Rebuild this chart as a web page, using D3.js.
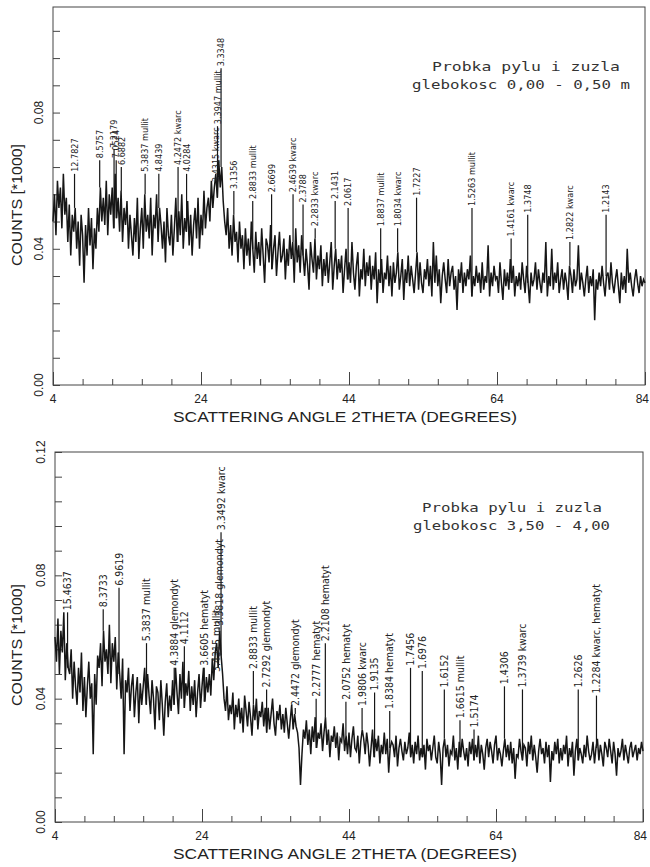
<!DOCTYPE html>
<html>
<head>
<meta charset="utf-8">
<script src="https://cdn.jsdelivr.net/npm/d3@7"></script>
<style>
  body { margin: 0; background: #fff; }
  text { fill: #222; }
</style>
</head>
<body>
<svg id="chart" width="650" height="867"></svg>
<script>
// measured scan: 2theta from 4 to 84, one reading every 0.2 deg, raw counts
var startAngle = 4, stepAngle = 0.2;
var xTickLabels = [4, 24, 44, 64, 84];

var countsTop = [
48,56,44,60,52, 58,46,62,50,55, 42,53,38,50,45, 52,40,48,35,50,
44,30,47,38,52, 41,49,34,46,40, 52,45,58,48,55, 47,60,44,56,50,
58,46,62,49,55, 45,57,42,52,47, 54,40,50,44,38, 49,42,55,37,46,
52,40,56,45,50, 43,55,38,50,46, 56,42,52,47,40, 48,36,52,44,41,
50,38,46,55,42, 51,44,56,40,49, 45,54,41,50,38, 47,52,43,55,40,
50,44,57,46,52, 55,48,60,52,58, 62,55,66,58,64, 54,48,44,52,40,
47,38,50,42,45, 36,48,40,44,34, 46,38,43,35,48, 40,33,45,37,42,
35,46,38,30,43, 41,36,47,34,40, 44,32,39,45,36, 38,43,31,40,35,
44,37,42,30,46, 36,41,33,44,38, 32,40,35,28,42, 37,33,43,31,38,
34,41,29,37,32, 39,30,36,42,28, 35,40,31,37,33, 38,27,34,40,31,
36,30,42,33,28, 35,39,26,34,31, 40,29,36,32,38, 28,35,31,39,24,
34,30,37,27,33, 31,38,29,35,26, 36,30,33,39,28, 32,37,25,34,30,
38,29,35,31,27, 33,39,28,36,30, 27,34,31,37,29, 35,26,42,30,38,
29,34,24,32,36, 31,27,37,29,33, 35,28,32,22,34, 30,36,27,33,29,
34,31,38,26,32, 29,35,30,33,27, 36,28,32,30,41, 26,33,29,35,31,
32,27,36,30,25, 34,29,33,28,37, 30,35,26,32,29, 33,28,36,31,27,
35,30,24,33,29, 31,36,28,34,30, 27,33,30,42,26, 32,29,40,28,33,
30,36,27,31,34, 28,33,30,25,35, 32,27,34,29,31, 41,28,33,30,26,
31,35,27,32,29, 34,19,31,28,33, 29,35,30,26,32, 33,28,36,30,27,
31,34,29,24,33, 28,32,27,40,30, 33,29,26,31,34, 30,27,32,29,31,
30];

var peakAnglesTop = [6.91, 10.31, 12.25, 12.54, 13.23, 16.45, 18.30, 20.90, 22.05, 25.94,
  26.23, 26.71, 28.44, 30.99, 33.54, 36.44, 37.79, 39.43, 42.13, 43.88,
  48.28, 50.57, 53.13, 60.62, 65.91, 68.15, 73.85, 78.74];
var peakCountsTop = [62, 66, 69, 66, 64, 62, 62, 64, 62, 59,
  76, 93, 57, 54, 56, 56, 53, 46, 54, 52,
  46, 46, 55, 52, 43, 50, 42, 50];
var peakLabelsTop = ["12.7827", "8.5757", "7.2179", "7.0524", "6.6882", "5.3837 mullit", "4.8439",
  "4.2472 kwarc", "4.0284", "3.4315 kwarc", "3.3947 mullit", "3.3348", "3.1356", "2.8833 mullit",
  "2.6699", "2.4639 kwarc", "2.3788", "2.2833 kwarc", "2.1431", "2.0617", "1.8837 mullit",
  "1.8034 kwarc", "1.7227", "1.5263 mullit", "1.4161 kwarc", "1.3748", "1.2822 kwarc", "1.2143"];
var yTickLabelsTop = [0, 40, 80];
var noteTop = ["Probka pylu i zuzla", "glebokosc 0,00 - 0,50 m"];

var countsBottom = [
60,52,66,48,62, 55,68,46,58,50, 48,56,40,52,44, 38,50,42,55,36,
47,34,44,52,40, 45,22,48,38,54, 50,58,44,62,52, 56,48,64,45,58,
52,60,43,55,48, 40,53,22,46,42, 50,36,44,48,34, 42,47,32,45,38,
44,50,38,48,41, 35,46,40,30,44, 42,33,46,38,28, 39,45,34,41,36,
46,38,50,42,35, 48,40,52,37,45, 41,49,36,44,38, 46,34,42,48,37,
44,50,39,47,42, 48,41,53,46,55, 58,50,62,54,48, 40,36,44,33,38,
35,42,30,38,34, 40,32,37,29,41, 36,31,39,34,28, 38,33,40,30,36,
34,39,31,37,29, 37,30,35,40,32, 28,36,33,38,30, 35,29,37,32,27,
33,38,30,35,31, 29,24,12,22,30, 27,33,25,30,22, 31,26,34,24,29,
27,32,23,29,34, 25,30,21,28,26, 31,24,29,20,27, 26,32,23,28,22,
29,21,27,31,24, 23,28,19,26,30, 27,22,29,25,18, 24,30,21,27,23,
28,19,25,22,29, 22,27,16,24,26, 25,21,28,18,24, 27,23,20,26,22,
24,29,21,25,19, 26,22,28,20,24, 21,25,17,27,23, 25,20,24,28,21,
19,26,22,12,24, 27,21,25,18,23, 22,28,20,24,17, 26,21,27,23,20,
24,18,26,22,27, 20,25,21,28,19, 25,22,17,24,27, 21,26,23,19,25,
28,20,24,22,18, 23,27,21,25,20, 26,19,24,14,22, 21,27,23,20,25,
24,18,26,22,28, 20,25,21,16,23, 27,22,24,19,26, 21,25,13,23,20,
26,22,27,19,24, 20,25,22,28,18, 24,21,26,15,23, 27,20,24,22,19,
25,21,28,23,20, 22,26,19,24,27, 20,25,22,18,26, 24,21,27,23,19,
26,22,15,24,21, 23,27,20,25,22, 19,24,26,21,23, 25,20,24,22,26,
23];

var peakAnglesBottom = [5.71, 10.56, 12.71, 16.45, 20.22, 21.60, 24.30, 25.94, 26.33, 26.59,
  30.99, 32.79, 36.69, 39.53, 40.78, 43.58, 45.78, 47.48, 49.54, 52.37,
  53.97, 56.97, 59.10, 61.01, 65.15, 67.60, 75.19, 77.67];
var peakCountsBottom = [68, 69, 76, 58, 50, 57, 50, 48, 63, 94,
  49, 43, 37, 40, 58, 39, 37, 42, 36, 50,
  49, 43, 33, 30, 44, 43, 43, 41];
var peakLabelsBottom = ["15.4637", "8.3733", "6.9619", "5.3837 mullit", "4.3884 glemondyt", "4.1112",
  "3.6605 hematyt", "3.4315 mullit", "3.3818 glemondyt", "3.3492 kwarc", "2.8833 mullit",
  "2.7292 glemondyt", "2.4472 glemondyt", "2.2777 hematyt", "2.2108 hematyt", "2.0752 hematyt",
  "1.9806 kwarc", "1.9135", "1.8384 hematyt", "1.7456", "1.6976", "1.6152", "1.6615 mullit",
  "1.5174", "1.4306", "1.3739 kwarc", "1.2626", "1.2284 kwarc, hematyt"];
var yTickLabelsBottom = [0, 40, 80, 120];
var noteBottom = ["Probka pylu i zuzla", "glebokosc 3,50 - 4,00"];

var svg = d3.select("#chart");
var ink = "#161616";

function drawPanel(p) {
    var g = svg.append("g");
    var x = d3.scaleLinear().domain([4, 84]).range([p.left, p.right]);
    var y = d3.scaleLinear().domain([0, p.ymax]).range([p.bottom, p.top]);

    // frame
    g.append("rect")
        .attr("x", p.left).attr("y", p.top)
        .attr("width", p.right - p.left).attr("height", p.bottom - p.top)
        .attr("fill", "none").attr("stroke", "#444").attr("stroke-width", 1);

    // x ticks, every 4 deg, long every 20
    var xAxis = d3.axisTop(x)
        .tickValues(d3.range(4, 84.1, 4))
        .tickSize(6).tickFormat("");
    g.append("g").attr("transform", "translate(0," + p.bottom + ")").call(xAxis)
        .call(function(s) {
            s.select(".domain").remove();
            s.selectAll("line").attr("stroke", "#444")
                .attr("y2", function(d) { return (d - 4) % 20 === 0 ? -13 : -6; });
        });
    g.selectAll(".xlab").data(xTickLabels).enter().append("text")
        .attr("x", function(d) { return d === 84 ? x(d) + 4 : x(d); })
        .attr("y", p.bottom + 18)
        .attr("text-anchor", function(d) { return d === 84 ? "end" : "middle"; })
        .style("font", "12px 'Liberation Sans', Arial, sans-serif")
        .text(function(d) { return d; });

    // y ticks, every 0.008 (8 counts)
    var yAxis = d3.axisRight(y)
        .tickValues(d3.range(0, p.ymax + 0.1, 8))
        .tickSize(7).tickFormat("");
    g.append("g").attr("transform", "translate(" + p.left + ",0)").call(yAxis)
        .call(function(s) {
            s.select(".domain").remove();
            s.selectAll("line").attr("stroke", "#444");
        });
    g.selectAll(".ylab").data(p.yLabels).enter().append("text")
        .attr("transform", function(d) {
            return "translate(" + (p.left - 10) + "," + y(d) + ") rotate(-90)";
        })
        .attr("text-anchor", "middle")
        .style("font", "12px 'Liberation Sans', Arial, sans-serif")
        .text(function(d) { return d3.format(".2f")(d / 1000); });

    // axis titles
    g.append("text")
        .attr("x", 345).attr("y", p.bottom + 37)
        .attr("text-anchor", "middle")
        .attr("textLength", 344).attr("lengthAdjust", "spacingAndGlyphs")
        .style("font", "15px 'Liberation Sans', Arial, sans-serif")
        .text("SCATTERING ANGLE 2THETA (DEGREES)");
    g.append("text")
        .attr("transform", "translate(22," + p.titleY + ") rotate(-90)")
        .attr("text-anchor", "middle")
        .attr("textLength", 122).attr("lengthAdjust", "spacingAndGlyphs")
        .style("font", "15px 'Liberation Sans', Arial, sans-serif")
        .text("COUNTS [*1000]");

    // pattern
    var line = d3.line()
        .x(function(d, i) { return x(startAngle + i * stepAngle); })
        .y(function(d) { return y(d); });
    g.append("path").datum(p.counts)
        .attr("d", line)
        .attr("fill", "none").attr("stroke", ink)
        .attr("stroke-width", 1.5).attr("stroke-linejoin", "miter");

    // labelled peaks
    var peaks = p.angles.map(function(a, i) {
        return { angle: a, tip: p.tips[i], label: p.labels[i],
                 base: p.counts[Math.round((a - startAngle) / stepAngle)] };
    });
    g.selectAll(".peak").data(peaks).enter().append("line")
        .attr("x1", function(d) { return x(d.angle); })
        .attr("x2", function(d) { return x(d.angle); })
        .attr("y1", function(d) { return y(Math.min(d.base, d.tip)); })
        .attr("y2", function(d) { return y(d.tip); })
        .attr("stroke", ink).attr("stroke-width", 1.2);
    g.selectAll(".plab").data(peaks).enter().append("text")
        .attr("transform", function(d) {
            return "translate(" + (x(d.angle) + p.fs * 0.36) + "," + (y(d.tip) - 2) + ") rotate(-90)";
        })
        .style("font", p.fs + "px 'DejaVu Sans Condensed', 'Liberation Sans Narrow', sans-serif")
        .text(function(d) { return d.label; });

    // sample note
    p.note.forEach(function(t, i) {
        g.append("text")
            .attr("x", p.noteX[i]).attr("y", p.noteY[i])
            .attr("textLength", p.noteW[i]).attr("lengthAdjust", "spacingAndGlyphs")
            .style("font", "13px 'DejaVu Sans Mono', monospace")
            .style("fill", "#333")
            .text(t);
    });
}

drawPanel({
    left: 53, right: 645, top: 7, bottom: 385, ymax: 111, titleY: 205, fs: 9,
    counts: countsTop, angles: peakAnglesTop, tips: peakCountsTop, labels: peakLabelsTop,
    yLabels: yTickLabelsTop, note: noteTop,
    noteX: [432, 412], noteY: [71, 89], noteW: [188, 218]
});

drawPanel({
    left: 55, right: 643, top: 452, bottom: 822, ymax: 120, titleY: 645, fs: 10.5,
    counts: countsBottom, angles: peakAnglesBottom, tips: peakCountsBottom, labels: peakLabelsBottom,
    yLabels: yTickLabelsBottom, note: noteBottom,
    noteX: [422, 413], noteY: [512, 530], noteW: [180, 197]
});
</script>
</body>
</html>
